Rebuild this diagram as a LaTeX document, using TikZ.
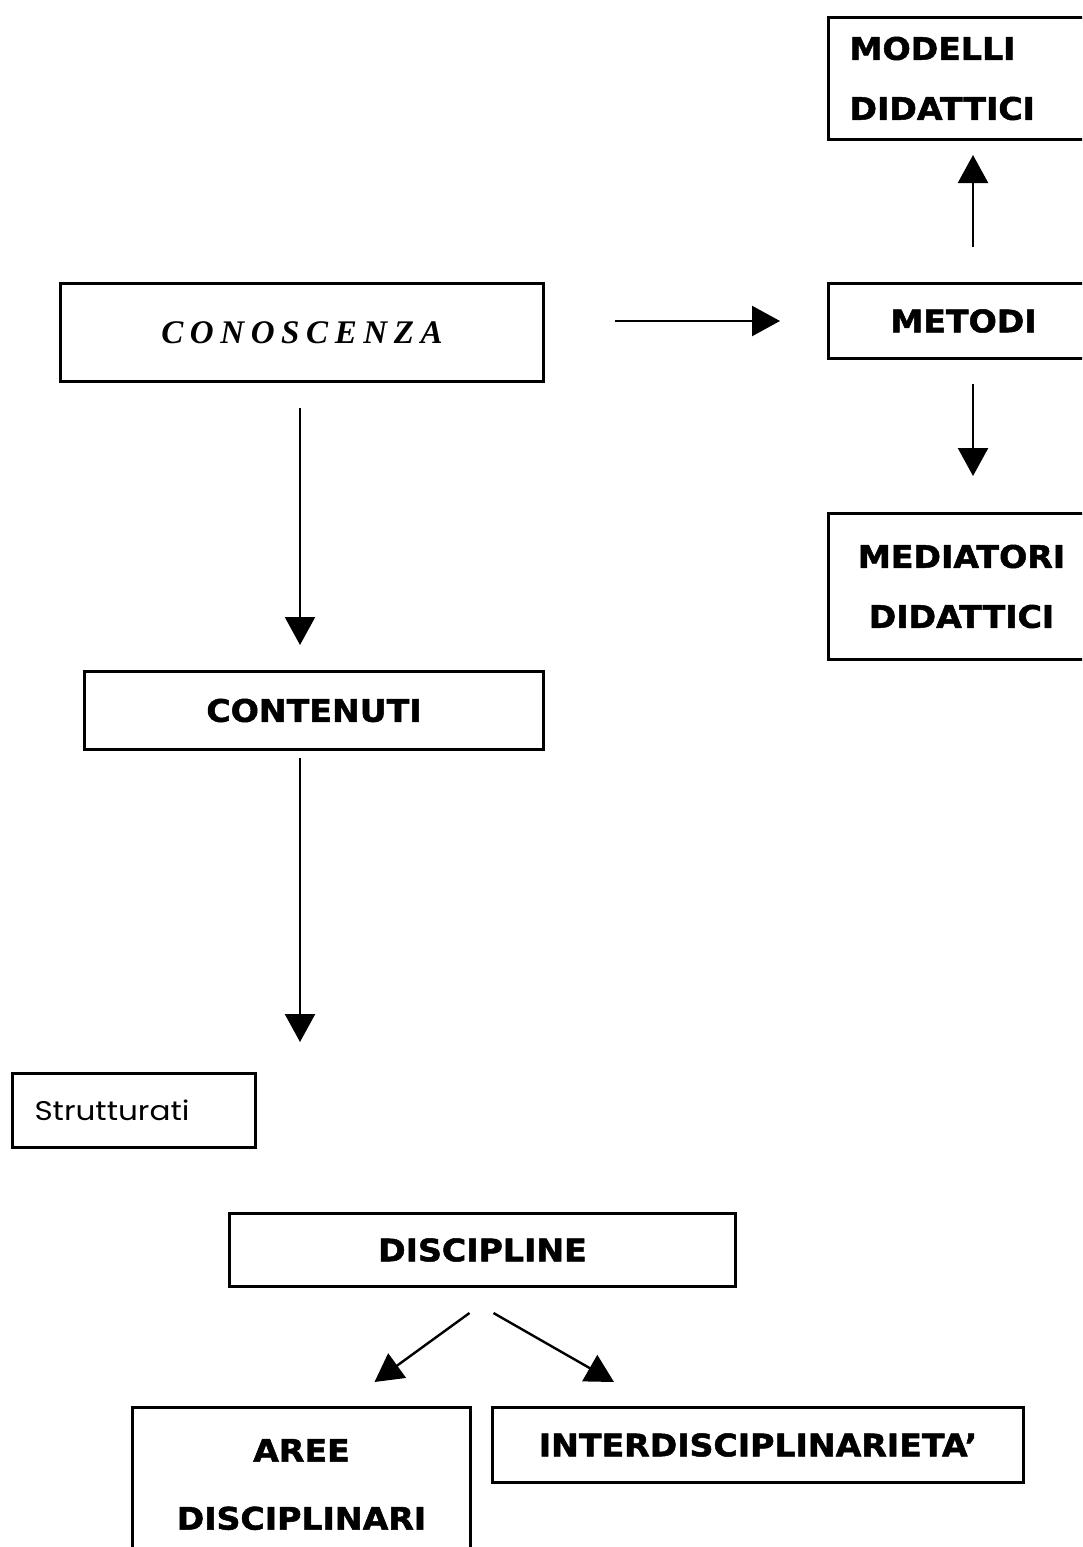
\documentclass[tikz,border=0pt]{standalone}
\usepackage{fontspec}
\usetikzlibrary{arrows.meta}
\newfontfamily\boxfont{DejaVu Sans}[FakeStretch=1.07, FakeBold=1.6]
\newfontfamily\titlefont{Liberation Serif}[LetterSpace=20]
\newfontfamily\handfont{Poppins}[FakeStretch=1.15]

\tikzset{
  box/.style={draw, line width=1.5pt, inner sep=0pt, anchor=north west,
    font=\boxfont\bfseries\fontsize{15.5}{30}\selectfont},
  arr/.style={line width=1.2pt, -{Triangle[length=14pt,width=15pt]}},
}

\begin{document}
\begin{tikzpicture}[x=0.5pt, y=-0.5pt]
            \clip (0,0) rectangle (1082,1547);
            \fill[white] (0,0) rectangle (1082,1547);
            % right column
            \node[box, align=left, inner xsep=10.5pt, text width=120pt, minimum height=61pt] (modelli) at (827,16) {MODELLI\\DIDATTICI};
            \node[box, minimum width=135pt, minimum height=37.5pt] (metodi) at (827,282) {METODI};
            \node[box, align=center, minimum width=133pt, minimum height=73pt] (mediatori) at (827,512) {MEDIATORI\\DIDATTICI};
            % left column
            \node[box, minimum width=241.5pt, minimum height=49pt,
                  font=\titlefont\bfseries\itshape\fontsize{16.5}{19}\selectfont] (conoscenza) at (59,282) {CONOSCENZA};
            \node[box, minimum width=229.5pt, minimum height=39pt] (contenuti) at (83,670) {CONTENUTI};
            \node[box, align=left, inner xsep=11pt, text width=99.5pt, minimum height=37pt,
                  font=\handfont\fontsize{13.5}{16}\selectfont] (strutturati) at (11,1072) {Strutturati};
            \node[box, minimum width=253pt, minimum height=36.5pt] (discipline) at (228,1212) {DISCIPLINE};
            \node[box, align=center, minimum width=169pt, minimum height=77pt] (aree) at (131,1406) {AREE\\[4pt]DISCIPLINARI};
            \node[box, minimum width=265.5pt, minimum height=37.5pt] (inter) at (491,1406) {INTERDISCIPLINARIETA’};
            % connectors
            \coordinate (mx) at (973,0);
            \coordinate (cx) at (300,0);
            \draw[arr, shorten <=35pt, shorten >=23.5pt] (conoscenza.east |- metodi.west) -- (metodi.west);
            \draw[arr, shorten <=17.5pt, shorten >=7pt] (metodi.north -| mx) -- (modelli.south -| mx);
            \draw[arr, shorten <=12pt, shorten >=18pt] (metodi.south -| mx) -- (mediatori.north -| mx);
            \draw[arr, shorten <=12.5pt, shorten >=12.5pt] (conoscenza.south -| cx) -- (contenuti.north -| cx);
            \draw[arr, shorten <=3.5pt, shorten >=15pt] (contenuti.south -| cx) -- (strutturati.north -| cx);
            \draw[arr] ([shift={(-13,25)}]discipline.south) -- ([shift={(73,-24)}]aree.north);
            \draw[arr] ([shift={(11,25)}]discipline.south) -- ([shift={(-144,-24)}]inter.north);
        \end{tikzpicture}
\end{document}
